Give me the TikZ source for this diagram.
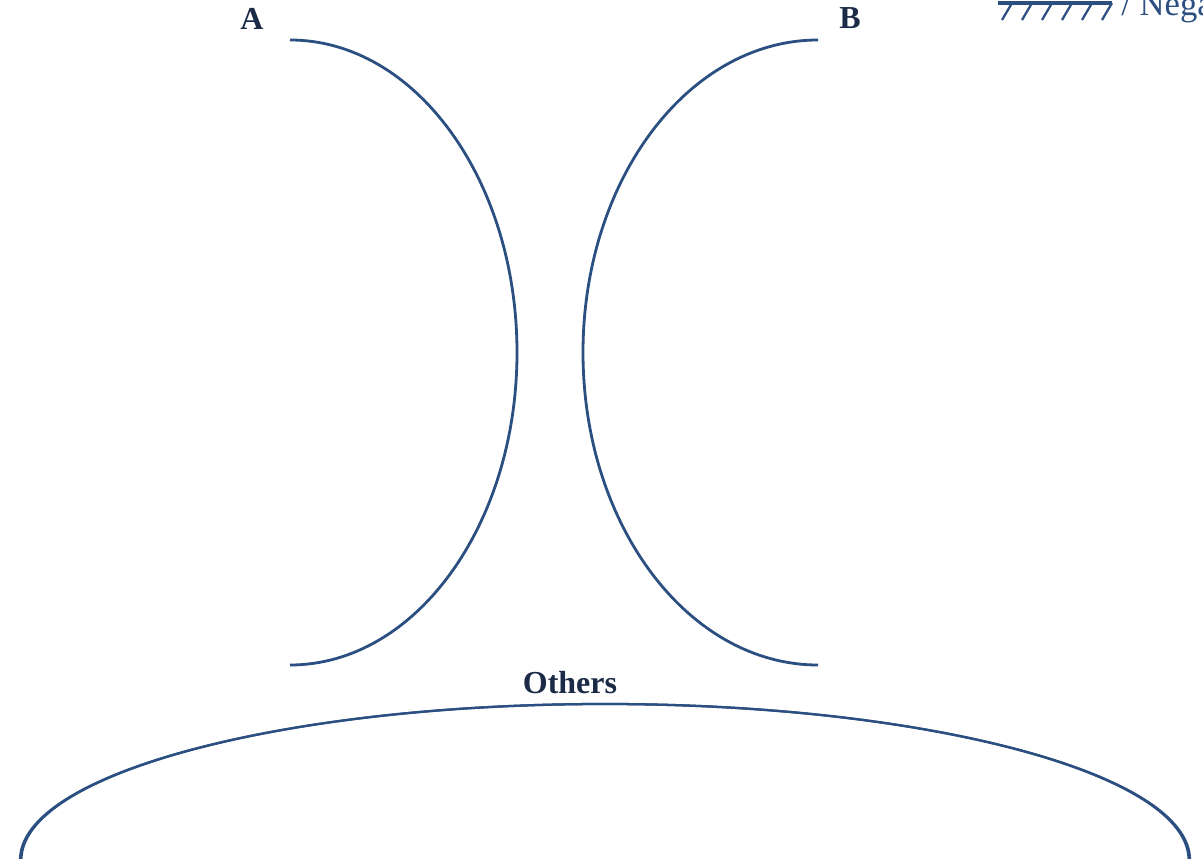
\documentclass[tikz,border=0pt]{standalone}
\usepackage{fontspec}
\setmainfont{Liberation Serif}
\usepackage{xcolor}
\usetikzlibrary{positioning}

\definecolor{arcblue}{HTML}{2B4F81}
\definecolor{labelnavy}{HTML}{1B2A47}

\tikzset{
  grouparc/.style={draw=arcblue, line width=2.1pt},
  grouplabel/.style={font=\fontsize{24}{28}\selectfont\bfseries, text=labelnavy, inner sep=0pt}
}

\begin{document}
\begin{tikzpicture}[x=0.75pt, y=0.75pt]

% Frame
\useasboundingbox (0,0) rectangle (1203,858);
\clip (0,0) rectangle (1203,858);

% Group A and group B
\draw[grouparc] (290,818) arc[start angle=90, end angle=-90, x radius=227, y radius=312.5];
\draw[grouparc] (818,818) arc[start angle=90, end angle=270, x radius=235, y radius=312.5];

% Others (thicker at the sides)
\draw[grouparc, line width=1.7pt] (605,-2) ellipse[x radius=585, y radius=156];
\draw[grouparc, line width=1.7pt] (605,-2) ellipse[x radius=583.6, y radius=156];

% Labels
\node[grouplabel] (labA) at (252,839) {A};
\node[grouplabel] (labB) at (850,840) {B};
\node[grouplabel] (labOthers) at (570,175) {Others};

% Legend (hatched line)
\draw[arcblue, line width=2.6pt] (998,855) -- (1112,855);
\foreach \i in {0,...,5} {
    \draw[arcblue, line width=1.7pt] (1012+20*\i,855) -- ++(-10,-17);
}
\node[anchor=base west, inner sep=0pt, text=arcblue, font=\fontsize{26}{30}\selectfont] (legend) at (1121,842) {/ Nega};

\end{tikzpicture}
\end{document}
